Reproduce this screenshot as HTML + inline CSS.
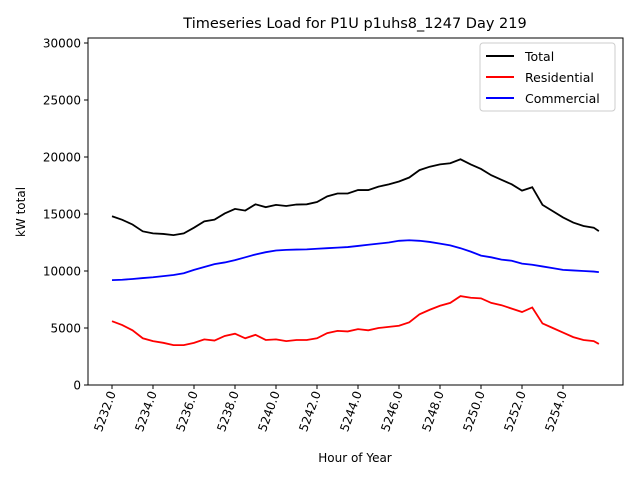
<!DOCTYPE html>
<html><head><meta charset="utf-8"><style>body{margin:0;background:#fff}svg{display:block;font-family:"DejaVu Sans","Liberation Sans",sans-serif}</style></head>
<body>
<svg id="chart" width="640" height="480" viewBox="0 0 640 480" xmlns="http://www.w3.org/2000/svg">
<text x="355" y="28" font-size="14.5" text-anchor="middle">Timeseries Load for P1U p1uhs8_1247  Day 219</text>
<text transform="translate(25,212) rotate(-90)" font-size="12" text-anchor="middle">kW total</text>
<text x="355" y="462" font-size="12" text-anchor="middle">Hour of Year</text>
<g id="ticks"></g>
<g id="lines"></g>
<rect x="88" y="38" width="535" height="347" fill="none" stroke="#000" stroke-width="1"/>
<g>
<rect x="480" y="43" width="135" height="68" fill="#fff" stroke="#ccc" rx="3"/>
<line x1="486" y1="56" x2="514" y2="56" stroke="#000" stroke-width="2"/><text x="525" y="61" font-size="12.5">Total</text>
<line x1="486" y1="77" x2="514" y2="77" stroke="red" stroke-width="2"/><text x="525" y="82" font-size="12.5">Residential</text>
<line x1="486" y1="98" x2="514" y2="98" stroke="blue" stroke-width="2"/><text x="525" y="103" font-size="12.5">Commercial</text>
</g>
</svg>
<script>
const hours = [];
for (let i = 0; i < 48; i++) hours.push(5232 + i * 0.5);
hours.push(5255.75);
const residential = [5600,5260,4800,4100,3850,3700,3500,3500,3700,4000,3900,4300,4500,4100,4400,3950,4000,3850,3950,3950,4100,4550,4750,4700,4900,4800,5000,5100,5200,5500,6200,6600,6950,7200,7800,7650,7600,7200,7000,6700,6400,6800,5400,5000,4600,4200,3950,3850,3600];
const commercial = [9200,9230,9300,9380,9450,9550,9650,9800,10100,10350,10600,10750,10950,11200,11450,11650,11800,11850,11880,11900,11950,12000,12050,12100,12200,12300,12400,12500,12650,12700,12650,12550,12400,12250,12000,11700,11350,11200,11000,10900,10650,10550,10400,10250,10100,10050,10000,9950,9900];
const total = [14800,14490,14080,13480,13300,13250,13150,13300,13800,14350,14500,15050,15450,15300,15850,15600,15800,15700,15830,15850,16050,16550,16800,16800,17100,17100,17400,17600,17850,18200,18850,19150,19350,19450,19800,19350,18950,18400,18000,17600,17050,17350,15800,15250,14700,14250,13950,13800,13500];
const xTicks = [5232,5234,5236,5238,5240,5242,5244,5246,5248,5250,5252,5254];
const yTicks = [0,5000,10000,15000,20000,25000,30000];
const X = h => 112 + (h - 5232) * 20.5;
const Y = v => 385 - v * 0.0114;
const NS = "http://www.w3.org/2000/svg";
const tg = document.getElementById('ticks');
xTicks.forEach(t => {
  const l = document.createElementNS(NS,'line');
  
  
  l.setAttribute('x1',X(t));l.setAttribute('x2',X(t));l.setAttribute('y1',385);l.setAttribute('y2',389);l.setAttribute('stroke','#000');
  tg.appendChild(l);
  const tx = document.createElementNS(NS,'text');
  
  
  tx.setAttribute('font-size','12');tx.setAttribute('text-anchor','end');
  tx.setAttribute('transform',`translate(${X(t)+4},393) rotate(-70)`);
  tx.textContent = t.toFixed(1);
  tg.appendChild(tx);
});
yTicks.forEach(t => {
  const l = document.createElementNS(NS,'line');
  
  
  l.setAttribute('x1',84);l.setAttribute('x2',88);l.setAttribute('y1',Y(t));l.setAttribute('y2',Y(t));l.setAttribute('stroke','#000');
  tg.appendChild(l);
  const tx = document.createElementNS(NS,'text');
  
  
  tx.setAttribute('font-size','12');tx.setAttribute('text-anchor','end');
  tx.setAttribute('x',81);tx.setAttribute('y',Y(t)+4.5);
  tx.textContent = t;
  tg.appendChild(tx);
});
const lg = document.getElementById('lines');
[[total,'#000','total-line'],[residential,'red','residential-line'],[commercial,'blue','commercial-line']].forEach(([vals,c,n]) => {
  const p = document.createElementNS(NS,'polyline');
  
  
  p.setAttribute('points', vals.map((v,i)=>X(hours[i])+','+Y(v)).join(' '));
  p.setAttribute('fill','none');p.setAttribute('stroke',c);p.setAttribute('stroke-width','1.8');
  lg.appendChild(p);
});
</script>
</body></html>
